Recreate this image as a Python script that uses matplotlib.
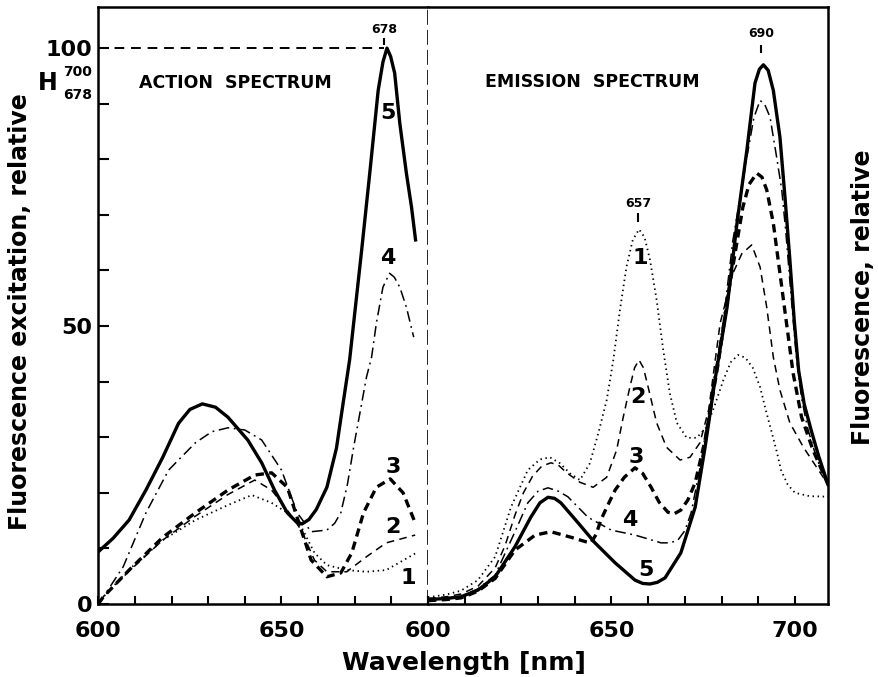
import matplotlib
matplotlib.use("Agg")
import matplotlib.pyplot as plt

plt.rcParams['font.family'] = ['DejaVu Sans']
plt.rcParams['font.weight'] = 'bold'

# ---- action spectrum (left panel) ----
act_x1 = [600, 601.4, 608.4, 617.6, 626.5, 635.4, 641.9, 647.3, 651.6, 655.4, 659, 662.4, 667.8, 673.2, 678.6, 686.8]
act_y1 = [0, 1.3, 6.2, 11.5, 15.1, 17.8, 19.6, 18.2, 16.4, 13.9, 9.2, 7, 6.1, 5.8, 6.1, 9.2]

act_x2 = [600, 601.4, 608.4, 617.6, 626.5, 635.4, 642.7, 647.3, 651.6, 655.4, 659, 662.4, 667.8, 673.2, 678.6, 686.5]
act_y2 = [0, 1.3, 5.9, 11.5, 15.8, 19.7, 22.3, 20.5, 16.9, 13.3, 7.9, 5.8, 5.8, 8.5, 11, 12.4]

act_x3 = [600, 601.4, 608.4, 617.6, 626.5, 635.4, 642.7, 647.3, 651.6, 655.4, 658.1, 662.4, 666.2, 669.2, 672.4, 675.9, 679.7, 683.2, 686.5]
act_y3 = [0, 1.3, 6.1, 12, 16.4, 20.5, 23.2, 23.6, 21, 13.3, 7.9, 4.9, 5.6, 9.2, 16.4, 21, 22.5, 20, 14.6]

act_x4 = [600, 601.4, 606.8, 613, 619.2, 626.5, 631, 635.4, 640, 644.6, 650, 654.3, 658.1, 662.4, 664.5, 666.2, 668,
          669.7, 673.2, 674.6, 675.9, 677.7, 679.5, 680.8, 682.3, 684.1, 686.1]
act_y4 = [0, 1.3, 6.7, 16.4, 24.1, 29, 31, 31.7, 31.3, 29.5, 24.1, 16.4, 13, 13.3, 14.5, 16.4, 21.5,
          28.2, 40.8, 44.4, 50.5, 57, 59.5, 58.8, 57, 53.4, 48]

act_x5 = [600, 604, 608.4, 613, 617.6, 621.9, 625, 628.4, 632, 635.4, 640.8, 644.6, 648.1, 651.6, 654, 655.6, 657.5,
          659.5, 662.4, 665, 666.8, 668.6, 670, 671.8, 674.1, 676.4, 677.7, 678.8, 679.8, 680.9, 682.3, 684.1, 685.5, 686.6]
act_y5 = [9.4, 11.8, 15.1, 20.5, 26.4, 32.5, 35, 36, 35.4, 33.6, 29.5, 25.4, 20.5, 16.4, 14.8, 14.4, 15.2,
          17, 21, 28, 36, 43.9, 52.3, 63.1, 77.5, 92.4, 97.5, 100, 98.5, 95.5, 86.5, 77.5, 71.4, 65.5]

# ---- emission spectrum (right panel) ----
em_x1 = [600, 605, 609, 613.6, 618.3, 622.6, 627.2, 630.5, 633.2, 636, 638.7, 641.4, 644.1, 646.4, 648.7, 650.5,
         652.3, 654.1, 655.8, 657.5, 659, 660.5, 662.3, 664.1, 665.9, 667.8, 670.5, 673.2, 675.9, 678, 680.5, 682.5,
         684.5, 686.5, 688.5, 690.5, 692, 693.5, 695, 696.2, 698, 700, 704, 709]
em_y1 = [1.2, 1.7, 2.4, 4.3, 8.5, 17.4, 24.1, 26, 26.4, 25.3, 23.5, 22.3, 25.3, 30.7, 36.7, 43.9,
         52.9, 60.7, 65.5, 67.4, 66, 61.9, 54.7, 45.7, 37.9, 32.6, 29.9, 29.9, 31.8, 35.5, 40.3, 43.5,
         44.8, 44.3, 42.5, 39, 35, 31.3, 27.5, 24.1, 21.5, 20, 19.4, 19.3]

em_x2 = [600, 605, 609, 613.6, 618.3, 621, 623.7, 626, 628.5, 631, 633.5, 635.5, 637.8, 641.4, 645, 648.7, 651.4,
         653.2, 655, 656.3, 657.5, 658.7, 660, 662.3, 665, 668.7, 671.4, 674.1, 676.5, 679.6, 683.1, 685.5, 688.2,
         690.5, 692.3, 694.1, 695.9, 698.6, 702.3, 705.9, 709]
em_y2 = [1.0, 1.3, 1.8, 3.2, 6.5, 10.5, 16, 20, 23, 24.8, 25.4, 25, 23.6, 21.9, 21, 22.8, 27.7,
         33.6, 39, 42.5, 43.9, 42.5, 39, 32.6, 28.2, 25.9, 26.4, 29, 35, 50.5, 59.5, 63, 64.6,
         60.6, 53.4, 44.4, 38.5, 32.6, 28.2, 24.6, 21.5]

em_x3 = [600, 605, 609, 613.6, 618.3, 623.7, 629.2, 633.5, 639, 643, 644.4, 645.8, 647.1, 649, 651, 653.5, 656.4,
         658.5, 660.8, 663, 665.4, 667, 668.9, 670.8, 672.8, 675.5, 679, 682, 685.8, 687.5, 689.6, 691, 692.3, 694.1,
         695.9, 697.7, 699.5, 701.8, 704.9, 709]
em_y3 = [0.6, 0.8, 1.1, 2.3, 4.6, 9.7, 12.4, 13, 12, 11.2, 11, 12.5, 15.1, 17.8, 20.5, 22.8, 24.5,
         23.5, 21, 18.3, 16.5, 16.2, 16.9, 18.7, 21.8, 29.5, 43, 56.5, 71.4, 75.5, 77.5, 76.8, 74.5, 68.5,
         59.5, 50.5, 41.5, 33.6, 27.7, 21.5]

em_x4 = [600, 605, 609, 613.6, 618.3, 623.7, 627.2, 630, 632.7, 635.5, 638.1, 643.6, 649.9, 656.4, 660, 663.5, 666,
         668.1, 670, 671.7, 674.4, 677.1, 680.4, 683.1, 686.9, 688.8, 690.5, 691.8, 693.2, 695, 696.4, 697.5, 699,
         700.3, 701.8, 703.5, 706, 709]
em_y4 = [0.8, 1.0, 1.4, 2.7, 5.2, 13, 18.2, 20.3, 20.9, 20.3, 19.3, 15.6, 13.3, 12.4, 11.7, 11, 11,
         11.5, 13.2, 16.4, 25.4, 37.2, 50.5, 65.5, 80.4, 87.5, 90.6, 89.8, 87.6, 80.4, 74.5, 67, 55,
         45, 37, 31.5, 26, 21.5]

em_x5 = [600, 605, 609, 613.6, 618.3, 623.7, 628, 630.5, 632.7, 634.5, 636.2, 640.9, 645.5, 651, 656.4, 658.5, 660.5,
         662.5, 664.6, 668.9, 672.8, 675.5, 678.2, 681.5, 684.2, 686.9, 689.1, 690.3, 691.4, 692.7, 694.1, 695.9,
         697.3, 698.6, 699.8, 701, 702.5, 704.4, 706.5, 709]
em_y5 = [0.8, 1.0, 1.3, 2.5, 4.9, 10.3, 15.6, 18.2, 19.2, 19, 18.2, 14.6, 11, 7.4, 4.3, 3.7, 3.6,
         3.9, 4.7, 9.2, 17.4, 28.2, 40.3, 53.4, 68.5, 81.7, 93.7, 96.2, 97, 96, 92.4, 84,
         73, 62, 51, 42, 36, 31.3, 26.5, 21.5]

# curve number labels (x, y)
act_labels = {'5': (679, 88.3), '4': (679, 62.2), '3': (680.4, 24.6), '2': (680.4, 13.8), '1': (684.5, 4.7)}
em_labels = {'1': (657.8, 62.2), '2': (657.2, 37.2), '3': (656.7, 26.4), '4': (655, 15.1), '5': (659.4, 6.1)}

act_peak = 678
em_peak = 690
em_peak1 = 657

styles = {
    '1': dict(color='black', lw=1.3, ls=(0, (0.8, 2.0))),
    '2': dict(color='black', lw=1.1, ls=(0, (5, 3.5))),
    '3': dict(color='black', lw=2.4, ls=(0, (2.5, 1.6))),
    '4': dict(color='black', lw=1.1, ls=(0, (7, 3, 1.2, 3))),
    '5': dict(color='black', lw=2.4, ls='-'),
}

W, H = 879, 677
fig = plt.figure(figsize=(W / 100, H / 100), dpi=100)
ax1 = fig.add_axes([98.3 / W, 73 / H, 329.7 / W, 597 / H])
ax2 = fig.add_axes([428 / W, 73 / H, 400 / W, 597 / H])

act = [(act_x1, act_y1), (act_x2, act_y2), (act_x3, act_y3), (act_x4, act_y4), (act_x5, act_y5)]
em = [(em_x1, em_y1), (em_x2, em_y2), (em_x3, em_y3), (em_x4, em_y4), (em_x5, em_y5)]

for i, (x, y) in enumerate(act):
    ax1.plot(x, y, solid_joinstyle='round', **styles[str(i + 1)])
for i, (x, y) in enumerate(em):
    ax2.plot(x, y, solid_joinstyle='round', **styles[str(i + 1)])

for k, (x, y) in act_labels.items():
    ax1.text(x, y, k, fontsize=16, fontweight='bold', ha='center', va='center')
for k, (x, y) in em_labels.items():
    ax2.text(x, y, k, fontsize=16, fontweight='bold', ha='center', va='center')

# reference line and peak marks
ax1.hlines(100, 600, act_peak, colors='black', lw=1.4, linestyles=(0, (5, 3.5)))
ax1.vlines(act_peak, 100.6, 101.9, colors='black', lw=1.5)
ax1.text(act_peak, 103.4, str(act_peak), fontsize=9, ha='center', va='center')
ax2.vlines(em_peak + 0.7, 99.1, 100.6, colors='black', lw=1.5)
ax2.text(em_peak + 0.7, 102.7, str(em_peak), fontsize=9, ha='center', va='center')
ax2.vlines(em_peak1 + 0.3, 68.7, 70.3, colors='black', lw=1.5)
ax2.text(em_peak1 + 0.3, 72.1, str(em_peak1), fontsize=9, ha='center', va='center')

ax1.text(637.3, 93.7, 'ACTION  SPECTRUM', fontsize=12.5, ha='center', va='center')
ax2.text(644.7, 93.9, 'EMISSION  SPECTRUM', fontsize=12.5, ha='center', va='center')

ax1.set_xlim(600, 690)
ax2.set_xlim(600, 709)
for ax in (ax1, ax2):
    ax.set_ylim(0, 107.4)
    for s in ax.spines.values():
        s.set_linewidth(1.8)

xt1 = list(range(600, 691, 10))
ax1.set_xticks(xt1)
ax1.set_xticklabels([str(t) if t in (600, 650) else '' for t in xt1])
xt2 = list(range(600, 701, 10))
ax2.set_xticks(xt2)
ax2.set_xticklabels([str(t) if t in (600, 650, 700) else '' for t in xt2])
yt = list(range(0, 101, 10))
ax1.set_yticks(yt)
ax1.set_yticklabels([str(t) if t in (0, 50, 100) else '' for t in yt])

ax1.tick_params(axis='x', direction='in', length=6, width=1.5, labelsize=16, pad=12)
ax1.tick_params(axis='y', direction='in', length=8, width=1.5, labelsize=16, pad=4)
ax2.tick_params(axis='x', direction='in', length=6, width=1.5, labelsize=16, pad=12)
ax2.tick_params(axis='y', left=False, labelleft=False)
for lab in ax1.get_xticklabels() + ax1.get_yticklabels() + ax2.get_xticklabels():
    lab.set_fontweight('bold')

ax1.spines['right'].set_linestyle((0, (8, 4)))
ax1.spines['right'].set_linewidth(1.2)
ax2.spines['left'].set_visible(False)

fig.text(48 / W, 1 - 83 / H, 'H', fontsize=17, ha='center', va='center')
fig.text(78 / W, 1 - 72 / H, '700', fontsize=10, ha='center', va='center')
fig.text(78 / W, 1 - 95 / H, '678', fontsize=10, ha='center', va='center')

fig.text(20 / W, 1 - 312 / H, 'Fluorescence excitation, relative', fontsize=17,
         rotation=90, ha='center', va='center')
fig.text(863 / W, 1 - 297 / H, 'Fluorescence, relative', fontsize=17,
         rotation=90, ha='center', va='center')
fig.text(464 / W, 1 - 663 / H, 'Wavelength [nm]', fontsize=18, ha='center', va='center')

fig.savefig('out.png', dpi=100)
